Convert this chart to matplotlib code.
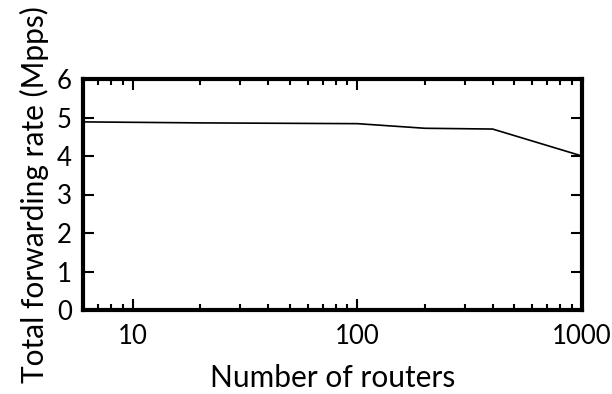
import matplotlib.pyplot as plt
from matplotlib.ticker import LogLocator, FixedLocator, NullFormatter

# number of routers vs total forwarding rate
routers = [5, 20, 100, 200, 400, 1000]
rate_mpps = [4.89, 4.86, 4.84, 4.72, 4.70, 4.00]

x_ticks = [10, 100, 1000]
x_tick_labels = ["10", "100", "1000"]
y_ticks = [0, 1, 2, 3, 4, 5, 6]

plt.rcParams['font.family'] = ['Lato', 'DejaVu Sans']

fig = plt.figure(figsize=(6.12, 3.94), dpi=100)
ax = fig.add_axes([83 / 612, 1 - 310 / 394, (582 - 83) / 612, (310 - 79) / 394])

ax.plot(routers, rate_mpps, color='black', linewidth=1.2)

ax.set_xscale('log')
ax.set_xlim(6, 1000)
ax.set_ylim(0, 6)

ax.xaxis.set_major_locator(FixedLocator(x_ticks))
ax.set_xticklabels(x_tick_labels)
ax.xaxis.set_minor_locator(LogLocator(base=10, subs=range(2, 10)))
ax.xaxis.set_minor_formatter(NullFormatter())
ax.set_yticks(y_ticks)

for s in ax.spines.values():
    s.set_linewidth(3)

ax.tick_params(which='both', direction='in', top=True, right=True, width=1.5, labelsize=18.5)
ax.tick_params(axis='x', pad=10)
ax.tick_params(axis='y', pad=8)
ax.tick_params(which='major', length=8)
ax.tick_params(which='minor', length=4)

ax.set_xlabel("Number of routers", fontsize=21.5, labelpad=11)
ax.set_ylabel("Total forwarding rate (Mpps)", fontsize=21.5, labelpad=6)

fig.savefig("out.png", dpi=100)
